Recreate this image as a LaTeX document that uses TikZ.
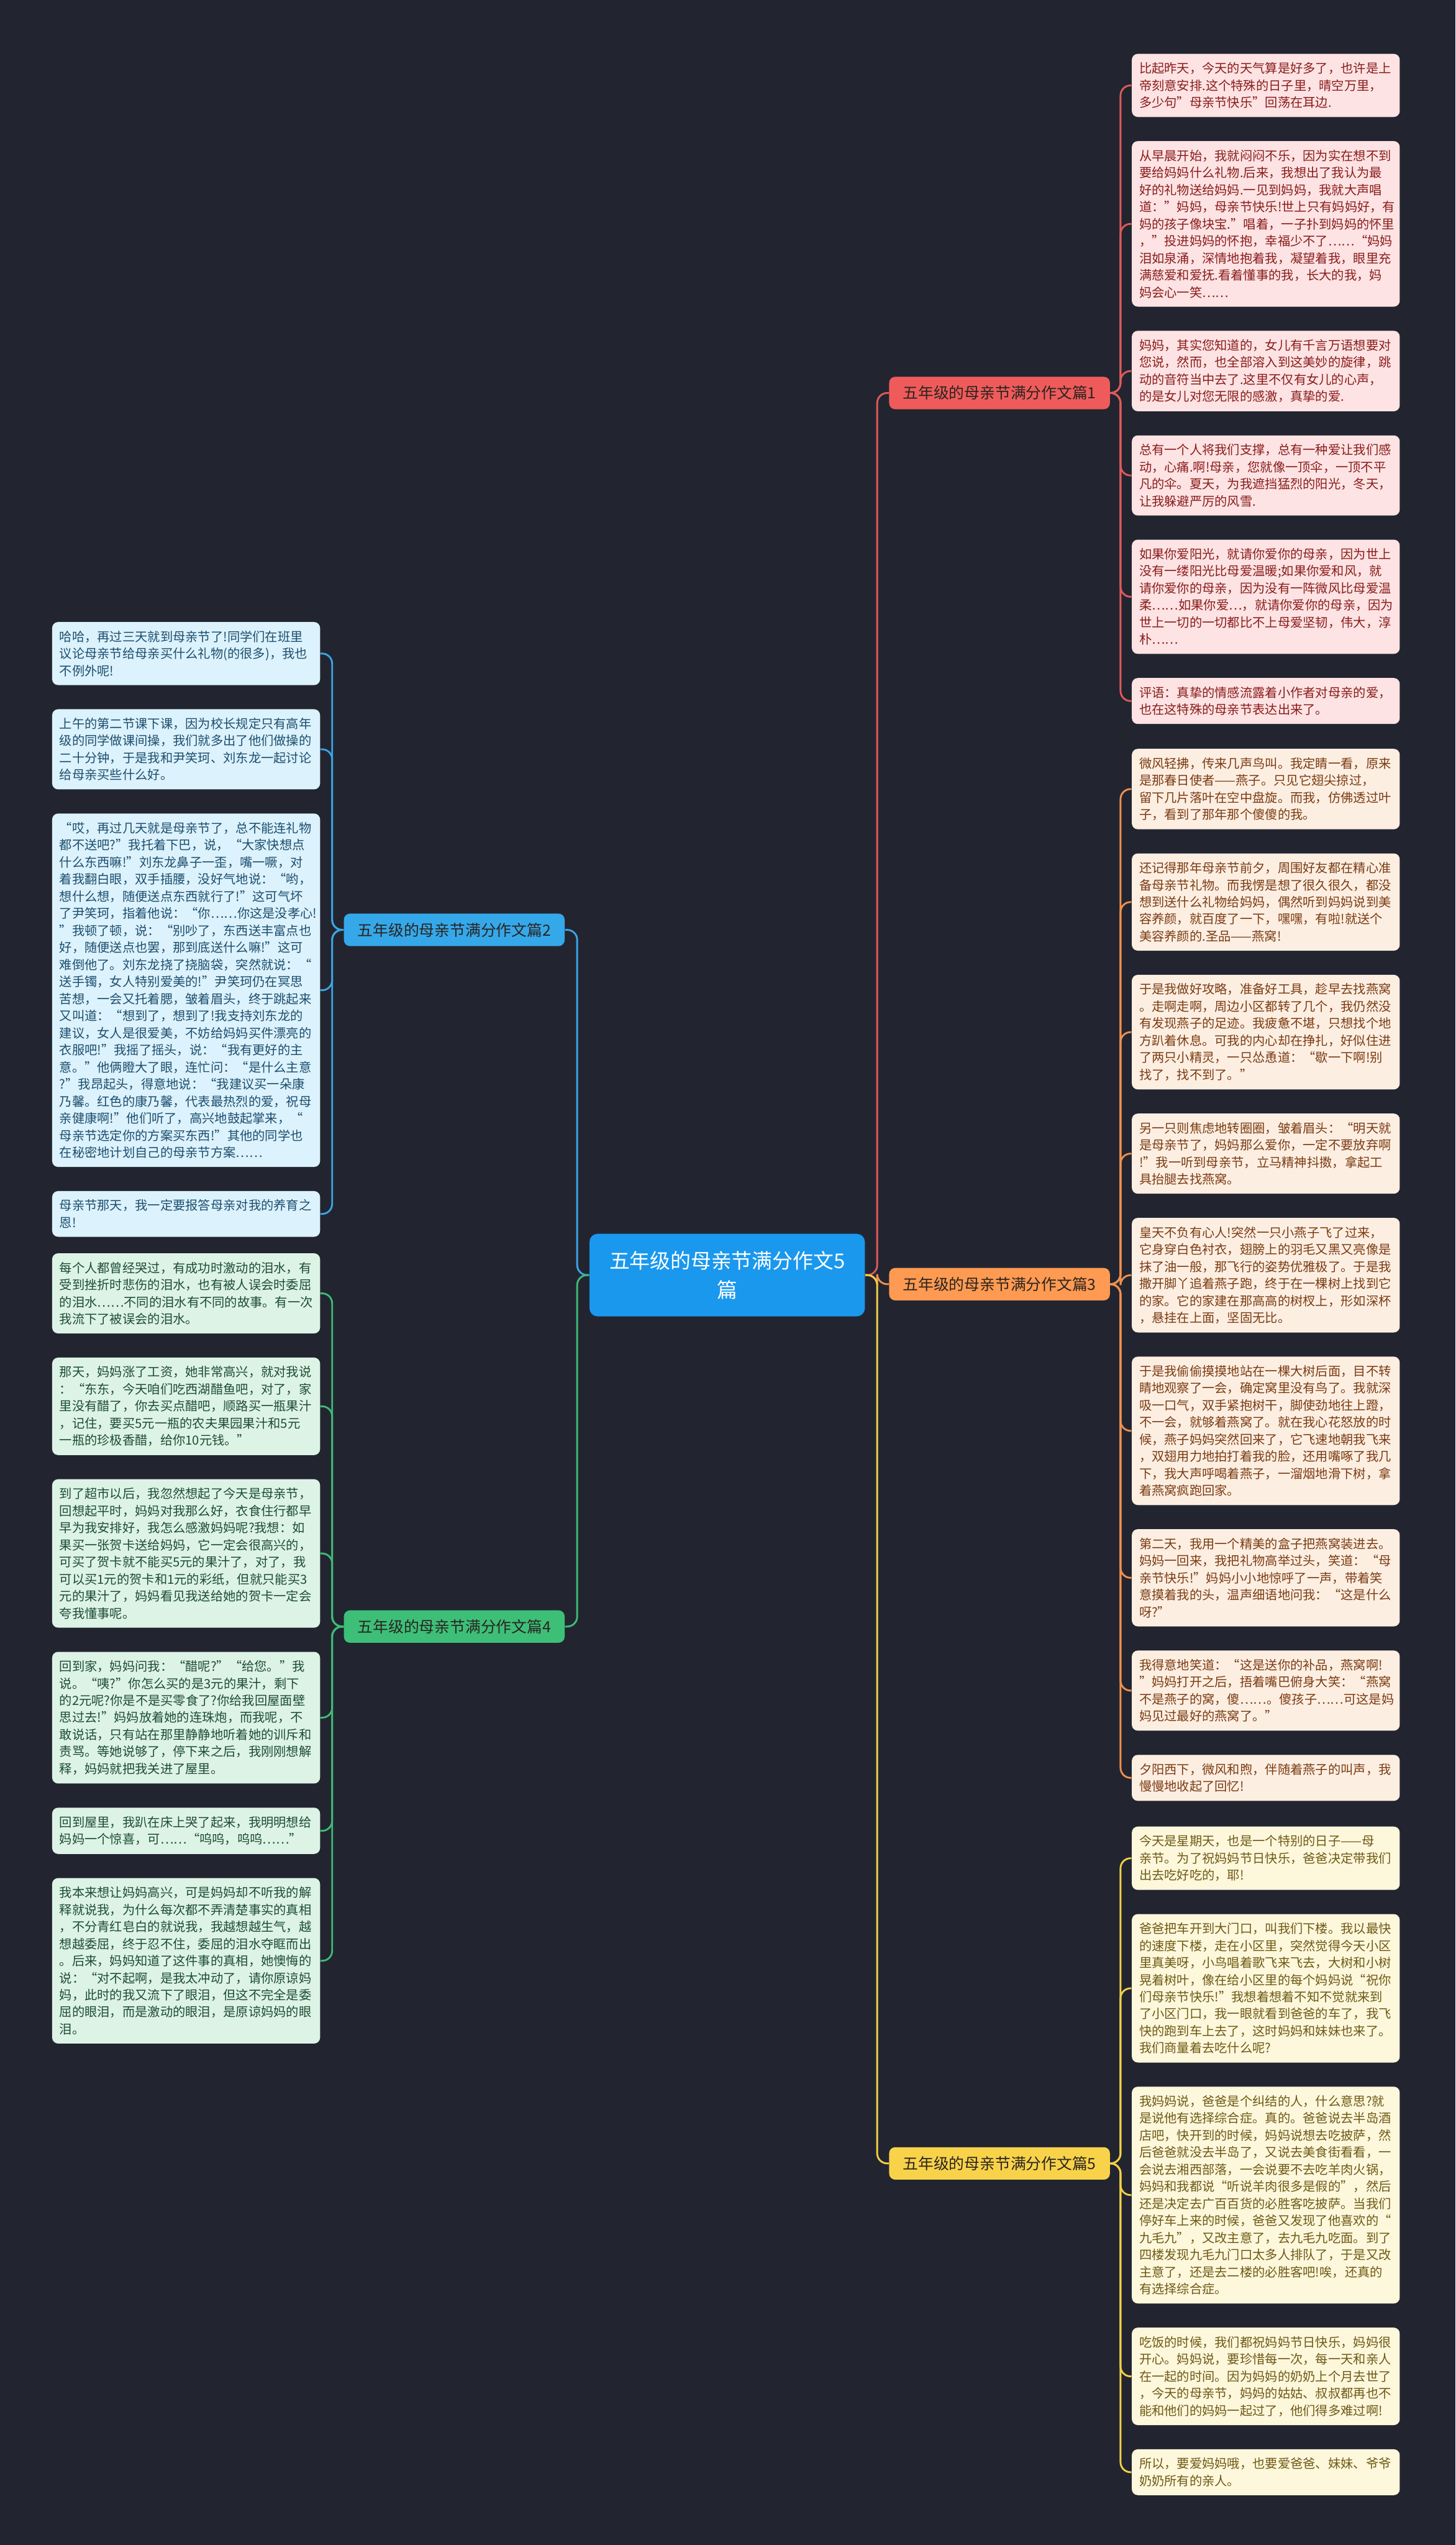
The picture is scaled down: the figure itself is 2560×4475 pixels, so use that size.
\documentclass[tikz,border=0pt]{standalone}
\usepackage{fontspec}
\setmainfont{Noto Sans CJK SC}
\usepackage{xcolor}
\usepackage{tikz}
\usetikzlibrary{positioning}

\definecolor{bg}{HTML}{222530}
\definecolor{rootblue}{HTML}{1A98EE}
\definecolor{topictext}{HTML}{2A2420}
\definecolor{redtopic}{HTML}{EF5B5B}
\definecolor{bluetopic}{HTML}{35A8EA}
\definecolor{orangetopic}{HTML}{FF9A52}
\definecolor{greentopic}{HTML}{3DBF78}
\definecolor{yellowtopic}{HTML}{F8D34A}
\definecolor{redline}{HTML}{E05A5A}
\definecolor{blueline}{HTML}{3AA5E6}
\definecolor{orangeline}{HTML}{F0904E}
\definecolor{greenline}{HTML}{3DBB78}
\definecolor{yellowline}{HTML}{F2CF48}
\definecolor{redfill}{HTML}{FDE3E3}
\definecolor{redtext}{HTML}{8A1C1C}
\definecolor{bluefill}{HTML}{DCF2FC}
\definecolor{bluetext}{HTML}{1D4E6E}
\definecolor{orangefill}{HTML}{FDEEE2}
\definecolor{orangetext}{HTML}{7A3C12}
\definecolor{greenfill}{HTML}{DDF3E6}
\definecolor{greentext}{HTML}{1E4D32}
\definecolor{yellowfill}{HTML}{FDF7DC}
\definecolor{yellowtext}{HTML}{6E5A14}

\begin{document}
\begin{tikzpicture}[
  x=0.01cm, y=-0.01cm,
  root/.style={rectangle, rounded corners=4pt, fill=rootblue, text=white, minimum width=4.84cm, minimum height=1.45cm, text width=4.5cm, align=center, font=\fontsize{10.2pt}{14.5pt}\selectfont},
  topic/.style={rectangle, rounded corners=3pt, fill=#1, text=topictext, minimum width=3.88cm, minimum height=0.57cm, inner sep=0pt, font=\fontsize{7.7pt}{9pt}\selectfont},
  note/.style={rectangle, rounded corners=3pt, text width=4.45cm, inner xsep=0.13cm, inner ysep=4.3pt, align=left, font=\fontsize{6.3pt}{8.54pt}\selectfont},
  redleaf/.style={note, fill=redfill, text=redtext},
  orangeleaf/.style={note, fill=orangefill, text=orangetext},
  yellowleaf/.style={note, fill=yellowfill, text=yellowtext},
  blueleaf/.style={note, fill=bluefill, text=bluetext},
  greenleaf/.style={note, fill=greenfill, text=greentext},
  link/.style={line width=0.9pt, rounded corners=5pt}
]
\fill[bg] (0,0) rectangle (2560,4475);
\useasboundingbox (0,0) rectangle (2560,4475);

\node[root] (root) at (1279,2242) {五年级的母亲节满分作文5\\篇};

\node[topic=redtopic] (b1) at (1758,691) {五年级的母亲节满分作文篇1};
\node[topic=bluetopic] (b2) at (799,1635) {五年级的母亲节满分作文篇2};
\node[topic=orangetopic] (b3) at (1758,2258) {五年级的母亲节满分作文篇3};
\node[topic=greentopic] (b4) at (799,2860) {五年级的母亲节满分作文篇4};
\node[topic=yellowtopic] (b5) at (1758,3804) {五年级的母亲节满分作文篇5};

\node[redleaf, anchor=north west] (r1a) at (1990,94) {比起昨天，今天的天气算是好多了，也许是上\\帝刻意安排.这个特殊的日子里，晴空万里，\\多少句"母亲节快乐"回荡在耳边.};
\node[redleaf, below=0.41cm of r1a] (r1b) {从早晨开始，我就闷闷不乐，因为实在想不到\\要给妈妈什么礼物.后来，我想出了我认为最\\好的礼物送给妈妈.一见到妈妈，我就大声唱\\道："妈妈，母亲节快乐!世上只有妈妈好，有\\妈的孩子像块宝."唱着，一子扑到妈妈的怀里\\，"投进妈妈的怀抱，幸福少不了……“妈妈\\泪如泉涌，深情地抱着我，凝望着我，眼里充\\满慈爱和爱抚.看着懂事的我，长大的我，妈\\妈会心一笑……};
\node[redleaf, below=0.41cm of r1b] (r1c) {妈妈，其实您知道的，女儿有千言万语想要对\\您说，然而，也全部溶入到这美妙的旋律，跳\\动的音符当中去了.这里不仅有女儿的心声，\\的是女儿对您无限的感激，真挚的爱.};
\node[redleaf, below=0.41cm of r1c] (r1d) {总有一个人将我们支撑，总有一种爱让我们感\\动，心痛.啊!母亲，您就像一顶伞，一顶不平\\凡的伞。夏天，为我遮挡猛烈的阳光，冬天，\\让我躲避严厉的风雪.};
\node[redleaf, below=0.41cm of r1d] (r1e) {如果你爱阳光，就请你爱你的母亲，因为世上\\没有一缕阳光比母爱温暖;如果你爱和风，就\\请你爱你的母亲，因为没有一阵微风比母爱温\\柔……如果你爱…，就请你爱你的母亲，因为\\世上一切的一切都比不上母爱坚韧，伟大，淳\\朴……};
\node[redleaf, below=0.41cm of r1e] (r1f) {评语：真挚的情感流露着小作者对母亲的爱，\\也在这特殊的母亲节表达出来了。};

\node[orangeleaf, anchor=north west] (r3a) at (1990,1316) {微风轻拂，传来几声鸟叫。我定睛一看，原来\\是那春日使者——燕子。只见它翅尖掠过，\\留下几片落叶在空中盘旋。而我，仿佛透过叶\\子，看到了那年那个傻傻的我。};
\node[orangeleaf, below=0.41cm of r3a] (r3b) {还记得那年母亲节前夕，周围好友都在精心准\\备母亲节礼物。而我愣是想了很久很久，都没\\想到送什么礼物给妈妈，偶然听到妈妈说到美\\容养颜，就百度了一下，嘿嘿，有啦!就送个\\美容养颜的.圣品——燕窝!};
\node[orangeleaf, below=0.41cm of r3b] (r3c) {于是我做好攻略，准备好工具，趁早去找燕窝\\。走啊走啊，周边小区都转了几个，我仍然没\\有发现燕子的足迹。我疲惫不堪，只想找个地\\方趴着休息。可我的内心却在挣扎，好似住进\\了两只小精灵，一只怂恿道：“歇一下啊!别\\找了，找不到了。”};
\node[orangeleaf, below=0.41cm of r3c] (r3d) {另一只则焦虑地转圈圈，皱着眉头：“明天就\\是母亲节了，妈妈那么爱你，一定不要放弃啊\\!”我一听到母亲节，立马精神抖擞，拿起工\\具抬腿去找燕窝。};
\node[orangeleaf, below=0.41cm of r3d] (r3e) {皇天不负有心人!突然一只小燕子飞了过来，\\它身穿白色衬衣，翅膀上的羽毛又黑又亮像是\\抹了油一般，那飞行的姿势优雅极了。于是我\\撒开脚丫追着燕子跑，终于在一棵树上找到它\\的家。它的家建在那高高的树杈上，形如深杯\\，悬挂在上面，坚固无比。};
\node[orangeleaf, below=0.41cm of r3e] (r3f) {于是我偷偷摸摸地站在一棵大树后面，目不转\\睛地观察了一会，确定窝里没有鸟了。我就深\\吸一口气，双手紧抱树干，脚使劲地往上蹬，\\不一会，就够着燕窝了。就在我心花怒放的时\\候，燕子妈妈突然回来了，它飞速地朝我飞来\\，双翅用力地拍打着我的脸，还用嘴啄了我几\\下，我大声呼喝着燕子，一溜烟地滑下树，拿\\着燕窝疯跑回家。};
\node[orangeleaf, below=0.41cm of r3f] (r3g) {第二天，我用一个精美的盒子把燕窝装进去。\\妈妈一回来，我把礼物高举过头，笑道：“母\\亲节快乐!”妈妈小小地惊呼了一声，带着笑\\意摸着我的头，温声细语地问我：“这是什么\\呀?”};
\node[orangeleaf, below=0.41cm of r3g] (r3h) {我得意地笑道：“这是送你的补品，燕窝啊!\\”妈妈打开之后，捂着嘴巴俯身大笑：“燕窝\\不是燕子的窝，傻……。傻孩子……可这是妈\\妈见过最好的燕窝了。”};
\node[orangeleaf, below=0.41cm of r3h] (r3i) {夕阳西下，微风和煦，伴随着燕子的叫声，我\\慢慢地收起了回忆!};

\node[yellowleaf, anchor=north west] (r5a) at (1990,3211) {今天是星期天，也是一个特别的日子——母\\亲节。为了祝妈妈节日快乐，爸爸决定带我们\\出去吃好吃的，耶!};
\node[yellowleaf, below=0.41cm of r5a] (r5b) {爸爸把车开到大门口，叫我们下楼。我以最快\\的速度下楼，走在小区里，突然觉得今天小区\\里真美呀，小鸟唱着歌飞来飞去，大树和小树\\晃着树叶，像在给小区里的每个妈妈说“祝你\\们母亲节快乐!”我想着想着不知不觉就来到\\了小区门口，我一眼就看到爸爸的车了，我飞\\快的跑到车上去了，这时妈妈和妹妹也来了。\\我们商量着去吃什么呢?};
\node[yellowleaf, below=0.41cm of r5b] (r5c) {我妈妈说，爸爸是个纠结的人，什么意思?就\\是说他有选择综合症。真的。爸爸说去半岛酒\\店吧，快开到的时候，妈妈说想去吃披萨，然\\后爸爸就没去半岛了，又说去美食街看看，一\\会说去湘西部落，一会说要不去吃羊肉火锅，\\妈妈和我都说“听说羊肉很多是假的”，然后\\还是决定去广百百货的必胜客吃披萨。当我们\\停好车上来的时候，爸爸又发现了他喜欢的“\\九毛九”，又改主意了，去九毛九吃面。到了\\四楼发现九毛九门口太多人排队了，于是又改\\主意了，还是去二楼的必胜客吧!唉，还真的\\有选择综合症。};
\node[yellowleaf, below=0.41cm of r5c] (r5d) {吃饭的时候，我们都祝妈妈节日快乐，妈妈很\\开心。妈妈说，要珍惜每一次，每一天和亲人\\在一起的时间。因为妈妈的奶奶上个月去世了\\，今天的母亲节，妈妈的姑姑、叔叔都再也不\\能和他们的妈妈一起过了，他们得多难过啊!};
\node[yellowleaf, below=0.41cm of r5d] (r5e) {所以，要爱妈妈哦，也要爱爸爸、妹妹、爷爷\\奶奶所有的亲人。};

\node[blueleaf, anchor=north west] (l2a) at (91,1093) {哈哈，再过三天就到母亲节了!同学们在班里\\议论母亲节给母亲买什么礼物(的很多)，我也\\不例外呢!};
\node[blueleaf, below=0.41cm of l2a] (l2b) {上午的第二节课下课，因为校长规定只有高年\\级的同学做课间操，我们就多出了他们做操的\\二十分钟，于是我和尹笑珂、刘东龙一起讨论\\给母亲买些什么好。};
\node[blueleaf, below=0.41cm of l2b] (l2c) {“哎，再过几天就是母亲节了，总不能连礼物\\都不送吧?”我托着下巴，说，“大家快想点\\什么东西嘛!”刘东龙鼻子一歪，嘴一噘，对\\着我翻白眼，双手插腰，没好气地说：“哟，\\想什么想，随便送点东西就行了!”这可气坏\\了尹笑珂，指着他说：“你……你这是没孝心!\\”我顿了顿，说：“别吵了，东西送丰富点也\\好，随便送点也罢，那到底送什么嘛!”这可\\难倒他了。刘东龙挠了挠脑袋，突然就说：“\\送手镯，女人特别爱美的!”尹笑珂仍在冥思\\苦想，一会又托着腮，皱着眉头，终于跳起来\\又叫道：“想到了，想到了!我支持刘东龙的\\建议，女人是很爱美，不妨给妈妈买件漂亮的\\衣服吧!”我摇了摇头，说：“我有更好的主\\意。”他俩瞪大了眼，连忙问：“是什么主意\\?”我昂起头，得意地说：“我建议买一朵康\\乃馨。红色的康乃馨，代表最热烈的爱，祝母\\亲健康啊!”他们听了，高兴地鼓起掌来，“\\母亲节选定你的方案买东西!”其他的同学也\\在秘密地计划自己的母亲节方案……};
\node[blueleaf, below=0.41cm of l2c] (l2d) {母亲节那天，我一定要报答母亲对我的养育之\\恩!};

\node[greenleaf, anchor=north west] (l4a) at (91,2203) {每个人都曾经哭过，有成功时激动的泪水，有\\受到挫折时悲伤的泪水，也有被人误会时委屈\\的泪水……不同的泪水有不同的故事。有一次\\我流下了被误会的泪水。};
\node[greenleaf, below=0.41cm of l4a] (l4b) {那天，妈妈涨了工资，她非常高兴，就对我说\\：“东东，今天咱们吃西湖醋鱼吧，对了，家\\里没有醋了，你去买点醋吧，顺路买一瓶果汁\\，记住，要买5元一瓶的农夫果园果汁和5元\\一瓶的珍极香醋，给你10元钱。”};
\node[greenleaf, below=0.41cm of l4b] (l4c) {到了超市以后，我忽然想起了今天是母亲节，\\回想起平时，妈妈对我那么好，衣食住行都早\\早为我安排好，我怎么感激妈妈呢?我想：如\\果买一张贺卡送给妈妈，它一定会很高兴的，\\可买了贺卡就不能买5元的果汁了，对了，我\\可以买1元的贺卡和1元的彩纸，但就只能买3\\元的果汁了，妈妈看见我送给她的贺卡一定会\\夸我懂事呢。};
\node[greenleaf, below=0.41cm of l4c] (l4d) {回到家，妈妈问我：“醋呢?”“给您。”我\\说。“咦?”你怎么买的是3元的果汁，剩下\\的2元呢?你是不是买零食了?你给我回屋面壁\\思过去!”妈妈放着她的连珠炮，而我呢，不\\敢说话，只有站在那里静静地听着她的训斥和\\责骂。等她说够了，停下来之后，我刚刚想解\\释，妈妈就把我关进了屋里。};
\node[greenleaf, below=0.41cm of l4d] (l4e) {回到屋里，我趴在床上哭了起来，我明明想给\\妈妈一个惊喜，可……“呜呜，呜呜……”};
\node[greenleaf, below=0.41cm of l4e] (l4f) {我本来想让妈妈高兴，可是妈妈却不听我的解\\释就说我，为什么每次都不弄清楚事实的真相\\，不分青红皂白的就说我，我越想越生气，越\\想越委屈，终于忍不住，委屈的泪水夺眶而出\\。后来，妈妈知道了这件事的真相，她懊悔的\\说：“对不起啊，是我太冲动了，请你原谅妈\\妈，此时的我又流下了眼泪，但这不完全是委\\屈的眼泪，而是激动的眼泪，是原谅妈妈的眼\\泪。};

\draw[link, draw=redline] (root.east) -- ++(21,0) |- (b1.west);
\draw[link, draw=orangeline] (root.east) -- ++(21,0) |- (b3.west);
\draw[link, draw=yellowline] (root.east) -- ++(21,0) |- (b5.west);
\draw[link, draw=blueline] (root.west) -- ++(-21,0) |- (b2.east);
\draw[link, draw=greenline] (root.west) -- ++(-21,0) |- (b4.east);

\foreach \n in {r1a,r1b,r1c,r1d,r1e,r1f}
  \draw[link, draw=redline] (b1.east) -- ++(18,0) |- (\n.west);
\foreach \n in {r3a,r3b,r3c,r3d,r3e,r3f,r3g,r3h,r3i}
  \draw[link, draw=orangeline] (b3.east) -- ++(18,0) |- (\n.west);
\foreach \n in {r5a,r5b,r5c,r5d,r5e}
  \draw[link, draw=yellowline] (b5.east) -- ++(18,0) |- (\n.west);
\foreach \n in {l2a,l2b,l2c,l2d}
  \draw[link, draw=blueline] (b2.west) -- ++(-20,0) |- (\n.east);
\foreach \n in {l4a,l4b,l4c,l4d,l4e,l4f}
  \draw[link, draw=greenline] (b4.west) -- ++(-20,0) |- (\n.east);
\end{tikzpicture}
\end{document}
